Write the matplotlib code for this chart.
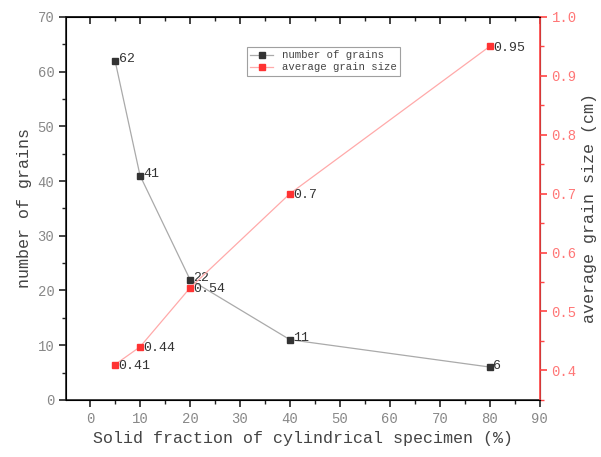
import matplotlib.pyplot as plt
from matplotlib.ticker import MultipleLocator

# data
solid_fraction = [5, 10, 20, 40, 80]
num_grains = [62, 41, 22, 11, 6]
grain_size = [0.41, 0.44, 0.54, 0.7, 0.95]
grain_size_labels = ['0.41', '0.44', '0.54', '0.7', '0.95']

plt.rcParams['font.family'] = ['Liberation Mono', 'DejaVu Sans Mono']

fig, ax1 = plt.subplots(figsize=(6.01, 4.57), dpi=100)
fig.subplots_adjust(left=0.11, right=0.898, top=0.963, bottom=0.125)

gray = '#333333'
red = '#ff3333'

l1, = ax1.plot(solid_fraction, num_grains, color='#aaaaaa', lw=0.9,
               marker='s', ms=5, mfc=gray, mec=gray, label='number of grains')
for x, y in zip(solid_fraction, num_grains):
    ax1.annotate(str(y), (x, y), xytext=(2.5, 1), textcoords='offset points',
                 va='center', ha='left', fontsize=9.5, color=gray)

ax1.set_xlim(-4.8, 90)
ax1.set_ylim(0, 70)
ax1.xaxis.set_major_locator(MultipleLocator(10))
ax1.xaxis.set_minor_locator(MultipleLocator(5))
ax1.yaxis.set_major_locator(MultipleLocator(10))
ax1.yaxis.set_minor_locator(MultipleLocator(5))
ax1.tick_params(axis='both', which='major', direction='out', length=5, width=1.2,
                labelsize=10, labelcolor='#888888', color='#222222')
ax1.tick_params(axis='both', which='minor', direction='out', length=3, width=1.0,
                color='#222222')
for sp in ['left', 'bottom', 'top']:
    ax1.spines[sp].set_color('#222222')
    ax1.spines[sp].set_linewidth(1.2)
ax1.set_xlabel('Solid fraction of cylindrical specimen (%)', fontsize=12, color='#444444')
ax1.set_ylabel('number of grains', fontsize=12, color='#444444')

# top axis: ticks pointing inward, no labels
top = ax1.secondary_xaxis('top')
top.xaxis.set_major_locator(MultipleLocator(10))
top.xaxis.set_minor_locator(MultipleLocator(5))
top.tick_params(which='major', direction='in', length=5, width=1.2, labeltop=False, color='#222222')
top.tick_params(which='minor', direction='in', length=3, width=1.0, color='#222222')
top.spines['top'].set_linewidth(1.2)
top.spines['top'].set_color('#222222')

ax2 = ax1.twinx()
l2, = ax2.plot(solid_fraction, grain_size, color='#ffaaaa', lw=0.9,
               marker='s', ms=5, mfc=red, mec=red, label='average grain size')
for x, y, t in zip(solid_fraction, grain_size, grain_size_labels):
    ax2.annotate(t, (x, y), xytext=(2.5, -1), textcoords='offset points',
                 va='center', ha='left', fontsize=9.5, color=gray)
ax2.set_ylim(0.35, 1.0)
ax2.yaxis.set_major_locator(MultipleLocator(0.1))
ax2.yaxis.set_minor_locator(MultipleLocator(0.05))
ax2.tick_params(axis='y', which='major', direction='out', length=5, width=1.2,
                labelsize=10, labelcolor='#ff7777', color='#ff4444')
ax2.tick_params(axis='y', which='minor', direction='out', length=3, width=1.0,
                color='#ff4444')
ax2.spines['right'].set_color('#ff4444')
ax2.spines['right'].set_linewidth(1.2)
ax2.set_ylabel('average grain size (cm)', fontsize=12, color='#444444', labelpad=4)

leg = ax1.legend(handles=[l1, l2], loc='upper left', bbox_to_anchor=(0.37, 0.935),
                 fontsize=7.7, frameon=True, fancybox=False, borderpad=0.3,
                 handlelength=2.2, labelspacing=0.2, markerscale=1.0)
leg.get_frame().set_edgecolor('#888888')
leg.get_frame().set_linewidth(0.8)
for t in leg.get_texts():
    t.set_color('#444444')

plt.savefig('out.png', dpi=100)
